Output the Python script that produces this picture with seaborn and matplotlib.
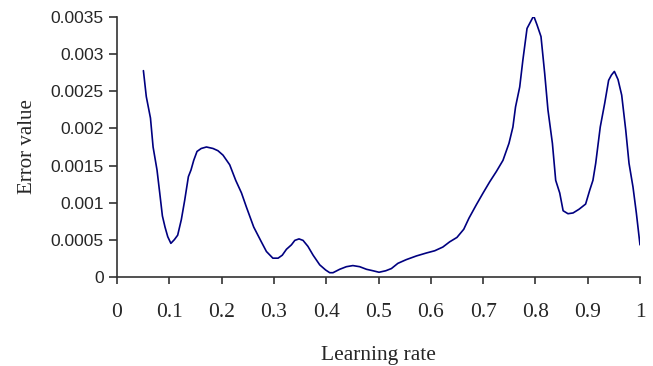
import matplotlib
matplotlib.use("Agg")
import matplotlib.pyplot as plt
import seaborn as sns
import pandas as pd

learning_rate = [0.0505, 0.056, 0.064, 0.069, 0.0765, 0.0817, 0.0868, 0.0918, 0.097, 0.103,
                 0.1097, 0.116, 0.123, 0.1294, 0.1365, 0.1415, 0.1467, 0.153, 0.161, 0.171,
                 0.1836, 0.193, 0.2027, 0.2155, 0.227, 0.238, 0.2474, 0.2614, 0.276, 0.2857,
                 0.298, 0.308, 0.316, 0.324, 0.3335, 0.34, 0.348, 0.3557, 0.365, 0.375,
                 0.3876, 0.399, 0.4067, 0.413, 0.4258, 0.4386, 0.451, 0.464, 0.477, 0.4895,
                 0.501, 0.5138, 0.5247, 0.537, 0.553, 0.5725, 0.5916, 0.6075, 0.623, 0.636,
                 0.650, 0.663, 0.673, 0.687, 0.700, 0.7126, 0.7254, 0.738, 0.7495, 0.757,
                 0.762, 0.770, 0.776, 0.784, 0.790, 0.7967, 0.803, 0.8107, 0.8178, 0.824,
                 0.8325, 0.8388, 0.8465, 0.853, 0.8623, 0.872, 0.8834, 0.896, 0.904, 0.910,
                 0.9153, 0.924, 0.9325, 0.940, 0.9453, 0.951, 0.958, 0.965, 0.9727, 0.979,
                 0.9866, 0.993, 1.000]
error_value = [0.00278, 0.00243, 0.00214, 0.00175, 0.00144, 0.00113, 0.00082, 0.00067, 0.00054, 0.00045,
               0.00050, 0.00056, 0.00077, 0.00103, 0.00135, 0.00144, 0.00157, 0.00169, 0.00173, 0.00175,
               0.00173, 0.00170, 0.00164, 0.00151, 0.00130, 0.00113, 0.00094, 0.00067, 0.00047, 0.00034,
               0.00025, 0.00025, 0.00029, 0.00037, 0.00043, 0.00049, 0.00051, 0.00049, 0.00041, 0.00029,
               0.00016, 0.00009, 0.000054, 0.000054, 0.00010, 0.000135, 0.00015, 0.000135, 0.00010, 0.00008,
               0.00006, 0.00008, 0.00011, 0.00018, 0.00023, 0.00028, 0.00032, 0.00035, 0.00040, 0.00047,
               0.00053, 0.00064, 0.00079, 0.00097, 0.00113, 0.00128, 0.00142, 0.00157, 0.00180, 0.00202,
               0.00229, 0.00256, 0.00292, 0.00335, 0.00343, 0.00352, 0.00340, 0.00324, 0.00274, 0.00225,
               0.00180, 0.00130, 0.00113, 0.00089, 0.00085, 0.00086, 0.00091, 0.00098, 0.00117, 0.00130,
               0.00153, 0.00202, 0.00234, 0.00265, 0.00272, 0.00277, 0.00266, 0.00245, 0.00198, 0.00153,
               0.00121, 0.00086, 0.00043]

x_ticks = [0, 0.1, 0.2, 0.3, 0.4, 0.5, 0.6, 0.7, 0.8, 0.9, 1.0]
x_tick_labels = ["0", "0.1", "0.2", "0.3", "0.4", "0.5", "0.6", "0.7", "0.8", "0.9", "1"]
y_ticks = [0, 0.0005, 0.001, 0.0015, 0.002, 0.0025, 0.003, 0.0035]
y_tick_labels = ["0", "0.0005", "0.001", "0.0015", "0.002", "0.0025", "0.003", "0.0035"]

sns.set_style("ticks")

df = pd.DataFrame({"Learning rate": learning_rate, "Error value": error_value})

fig = plt.figure(figsize=(6.53, 3.66), dpi=100)
ax = fig.add_axes([117 / 653, 1 - 276.7 / 366, (640 - 117) / 653, (276.7 - 17.3) / 366])

sns.lineplot(data=df, x="Learning rate", y="Error value", ax=ax, color="#000080",
             linewidth=1.2, sort=False, estimator=None)

ax.set_xlim(0, 1)
ax.set_ylim(0, 0.0035)
ax.set_xticks(x_ticks)
ax.set_xticklabels(x_tick_labels, fontfamily="Liberation Serif", fontsize=15.5)
ax.set_yticks(y_ticks)
ax.set_yticklabels(y_tick_labels, fontfamily="Liberation Sans", fontsize=12.5)
ax.tick_params(axis="x", direction="out", length=5, width=1.2, color="#333333", pad=14)
ax.tick_params(axis="y", direction="out", length=5.5, width=1.2, color="#333333", pad=4)

for side in ["top", "right"]:
    ax.spines[side].set_visible(False)
for side in ["left", "bottom"]:
    ax.spines[side].set_color("#333333")
    ax.spines[side].set_linewidth(1.2)

ax.set_xlabel("Learning rate", fontfamily="Liberation Serif", fontsize=15.5, labelpad=17)
ax.set_ylabel("Error value", fontfamily="Liberation Serif", fontsize=15, labelpad=10)

fig.savefig("out.png", dpi=100)
